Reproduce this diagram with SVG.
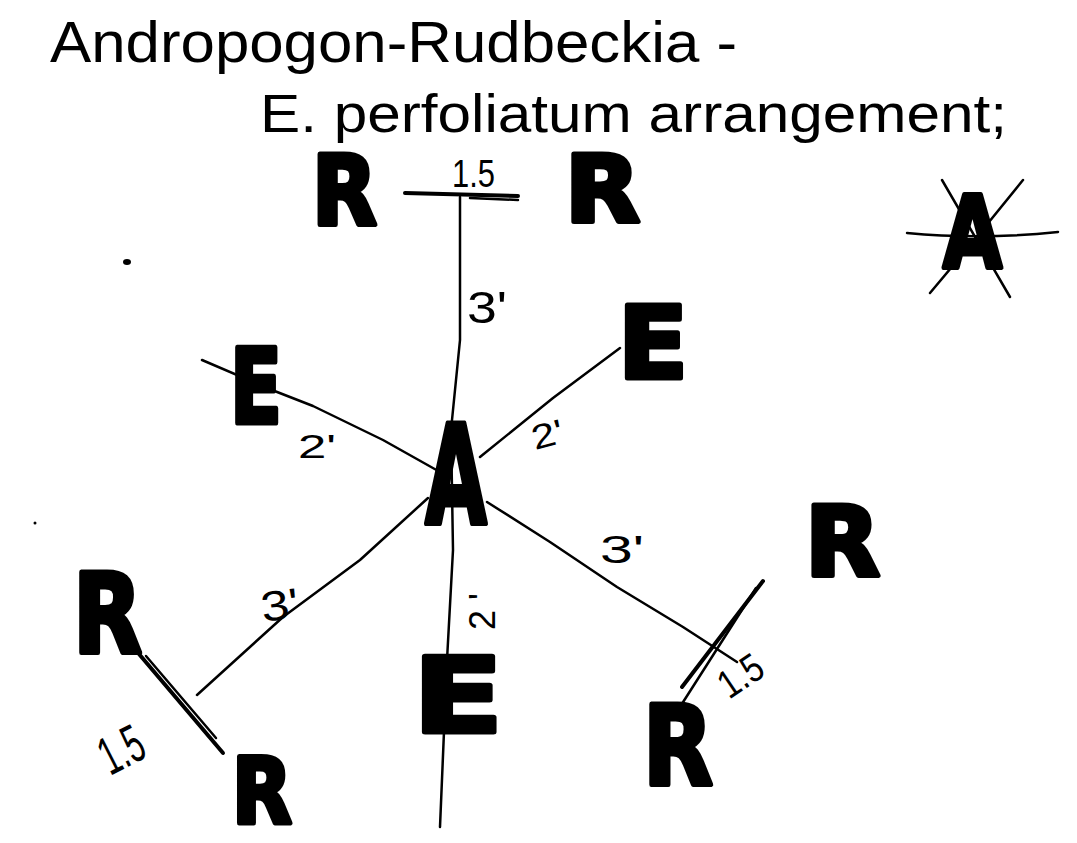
<svg xmlns="http://www.w3.org/2000/svg" width="1077" height="843" viewBox="0 0 1077 843">
  <style>
    .big { font-family: "DejaVu Sans", "Liberation Sans", sans-serif; font-weight: bold; fill: #000; stroke: #000; stroke-width: 5; stroke-linejoin: round; }
    .hand { font-family: "Liberation Sans", "DejaVu Sans", sans-serif; fill: #000; }
    .lbl { font-family: "Liberation Sans", "DejaVu Sans", sans-serif; fill: #000; }
    .ln { fill: none; stroke: #000; stroke-width: 2.5; stroke-linecap: round; stroke-linejoin: round; }
    .bar { fill: none; stroke: #000; stroke-width: 4; stroke-linecap: round; }
  </style>
  <rect width="1077" height="843" fill="#fff"/>

  <g id="title">
    <text class="hand" x="50" y="62" font-size="58" textLength="687" lengthAdjust="spacingAndGlyphs">Andropogon-Rudbeckia -</text>
    <text class="hand" x="260" y="132" font-size="54" textLength="747" lengthAdjust="spacingAndGlyphs">E. perfoliatum arrangement;</text>
  </g>

  <g id="connectors">
    <path class="bar" d="M405,193 L518,196"/>
    <path class="ln" d="M470,198 L518,200"/>
    <path class="ln" d="M460,197 L460,340 L451,430 L453,550 L447,660 L440,827"/>
    <path class="ln" d="M202,360 L272,390 L313,406 L383,440 L440,472"/>
    <path class="ln" d="M480,457 L553,398 L620,348"/>
    <path class="ln" d="M487,502 L550,542 L617,587 L683,627 L737,662"/>
    <path class="ln" d="M428,498 L360,560 L283,617 L197,695"/>
    <path class="bar" d="M763,581 L682,687"/>
    <path class="ln" d="M756,588 L678,710"/>
    <path class="bar" d="M139,654 L223,753"/>
    <path class="ln" d="M146,656 L216,738"/>
    <path class="ln" d="M907,233 Q980,240 1058,232"/>
    <path class="ln" d="M942,180 L1010,297"/>
    <path class="ln" d="M1023,180 Q978,236 930,293"/>
    <ellipse cx="127" cy="262" rx="4" ry="3" fill="#000"/>
    <circle cx="35" cy="523" r="1.5" fill="#000"/>
  </g>

  <g id="labels">
    <text class="lbl" x="452" y="187" font-size="38" textLength="43" lengthAdjust="spacingAndGlyphs">1.5</text>
    <text class="lbl" x="467" y="323" font-size="44" textLength="40" lengthAdjust="spacingAndGlyphs">3'</text>
    <text class="lbl" x="298" y="458" font-size="34" textLength="38" lengthAdjust="spacingAndGlyphs">2'</text>
    <text class="lbl" font-size="34" textLength="32" lengthAdjust="spacingAndGlyphs" transform="translate(535,450) rotate(-15)">2'</text>
    <text class="lbl" x="600" y="563" font-size="38" textLength="44" lengthAdjust="spacingAndGlyphs">3'</text>
    <text class="lbl" font-size="42" textLength="38" lengthAdjust="spacingAndGlyphs" transform="translate(263,622) rotate(-8)">3'</text>
    <text class="lbl" font-size="36" transform="translate(495,630) rotate(-90)">2 '</text>
    <text class="lbl" font-size="54" textLength="44" lengthAdjust="spacingAndGlyphs" transform="translate(110,776) rotate(-27)">1.5</text>
    <text class="lbl" font-size="40" textLength="46" lengthAdjust="spacingAndGlyphs" transform="translate(729,700) rotate(-34)">1.5</text>
  </g>

  <g id="node-R-top-left"><text class="big" x="312" y="225" font-size="96" textLength="65" lengthAdjust="spacingAndGlyphs">R</text></g>
  <g id="node-R-top-right"><text class="big" x="565" y="222" font-size="92" textLength="75" lengthAdjust="spacingAndGlyphs">R</text></g>
  <g id="node-A-crossed"><text class="big" x="943" y="267" font-size="99" textLength="59" lengthAdjust="spacingAndGlyphs">A</text></g>
  <g id="node-E-left"><text class="big" x="230" y="423" font-size="104" textLength="52" lengthAdjust="spacingAndGlyphs">E</text></g>
  <g id="node-E-right"><text class="big" x="618" y="378" font-size="100" textLength="70" lengthAdjust="spacingAndGlyphs">E</text></g>
  <g id="node-A-center"><text class="big" x="425" y="523" font-size="138" textLength="62" lengthAdjust="spacingAndGlyphs">A</text></g>
  <g id="node-R-right"><text class="big" x="805" y="576" font-size="96" textLength="75" lengthAdjust="spacingAndGlyphs">R</text></g>
  <g id="node-R-left"><text class="big" x="73" y="653" font-size="111" textLength="69" lengthAdjust="spacingAndGlyphs">R</text></g>
  <g id="node-E-bottom"><text class="big" x="413" y="732" font-size="103" textLength="90" lengthAdjust="spacingAndGlyphs">E</text></g>
  <g id="node-R-bottom-right"><text class="big" x="643" y="785" font-size="110" textLength="70" lengthAdjust="spacingAndGlyphs">R</text></g>
  <g id="node-R-bottom"><text class="big" x="232" y="823" font-size="90" textLength="60" lengthAdjust="spacingAndGlyphs">R</text></g>
</svg>
